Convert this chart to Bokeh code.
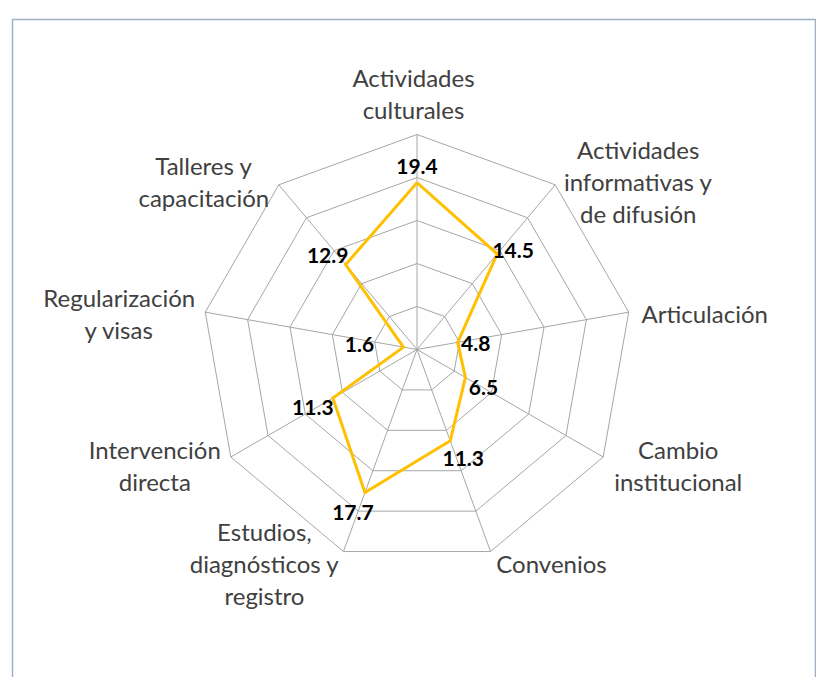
import numpy as np
from bokeh.plotting import figure
from bokeh.models import Range1d
from bokeh.core.properties import value
from bokeh.embed import file_html
from bokeh.resources import INLINE

# ---- data ----
categories = [
    "Actividades\nculturales",
    "Actividades\ninformativas y\nde difusión",
    "Articulación",
    "Cambio\ninstitucional",
    "Convenios",
    "Estudios,\ndiagnósticos y\nregistro",
    "Intervención\ndirecta",
    "Regularización\ny visas",
    "Talleres y\ncapacitación",
]
values = [19.4, 14.5, 4.8, 6.5, 11.3, 17.7, 11.3, 1.6, 12.9]
ring_levels = [5, 10, 15, 20, 25]

# ---- layout (pixels) ----
W, H = 816, 677
CX, CY = 416.5, 349.0          # centre of the radar in figure pixels (from top-left)
R = 215.0                      # pixel radius of the outer ring
vmax = ring_levels[-1]
scale = R / vmax

# label block centre offsets from the outer vertex (px, y down)
label_offsets = [(-3.5, -41), (83, -3), (76, 1), (75, 8), (61, 12),
                 (-79, 12), (-76, 8), (-86, 1), (-75, -3)]
# data label offsets from the data point (px, y down)
dlabel_offsets = [(0, -16), (16, -3), (18, 1), (18, 10), (13, 18),
                  (-12, 20), (-20, 9), (-44, -3), (-18, -9)]
LINE_SPACING = 32

p = figure(width=W, height=H, output_backend="svg", toolbar_location=None,
           x_range=Range1d(-CX, W - CX), y_range=Range1d(-(H - CY), CY),
           min_border=0, x_axis_location=None, y_axis_location=None)
p.grid.visible = False
p.outline_line_color = None
p.background_fill_color = "white"
p.border_fill_color = "white"

n = len(categories)
ang = np.deg2rad(90 - np.arange(n) * 360.0 / n)

# frame border (left, top, right)
bl, bt, br = 12 - CX, CY - 19, 815 - CX
p.line([bl, bl, br, br], [-(H - CY) - 20, bt, bt, -(H - CY) - 20],
       line_color="#9DB0C8", line_width=1.5)

# rings
for lv in ring_levels:
    rr = lv * scale
    xs = list(rr * np.cos(ang)) + [rr * np.cos(ang[0])]
    ys = list(rr * np.sin(ang)) + [rr * np.sin(ang[0])]
    p.line(xs, ys, line_color="#A6A6A6", line_width=1)
# spokes
p.multi_line([[0, R * np.cos(a)] for a in ang], [[0, R * np.sin(a)] for a in ang],
             line_color="#A6A6A6", line_width=1)

# data polygon
vx = [v * scale * np.cos(a) for v, a in zip(values, ang)]
vy = [v * scale * np.sin(a) for v, a in zip(values, ang)]
p.line(vx + [vx[0]], vy + [vy[0]], line_color="#FFC000", line_width=3, line_join="miter")

# data labels
p.text([x + o[0] for x, o in zip(vx, dlabel_offsets)],
       [y - o[1] for y, o in zip(vy, dlabel_offsets)],
       text=[f"{v:.1f}" for v in values],
       text_font=value("Lato"), text_font_style="bold", text_font_size="21px",
       text_color="black", text_align="center", text_baseline="middle")

# category labels, line by line, centred
lx, ly, lt = [], [], []
for i, (lab, a) in enumerate(zip(categories, ang)):
    bx = R * np.cos(a) + label_offsets[i][0]
    by = R * np.sin(a) - label_offsets[i][1]
    lines = lab.split("\n")
    k = len(lines)
    for j, s in enumerate(lines):
        lx.append(bx)
        ly.append(by - (j - (k - 1) / 2) * LINE_SPACING)
        lt.append(s)
p.text(lx, ly, text=lt, text_font=value("Lato"), text_font_size="24px",
       text_color="#404040", text_align="center", text_baseline="middle")

open("out.html", "w").write(file_html(p, INLINE))
